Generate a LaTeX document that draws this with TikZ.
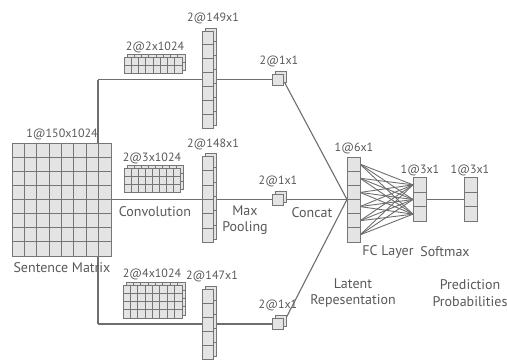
\documentclass[tikz,border=0pt]{standalone}
\usepackage{fontspec}
\setmainfont{PT Sans}
\usetikzlibrary{calc}
\definecolor{txt}{RGB}{88,88,88}
\definecolor{ln}{RGB}{110,110,110}
\definecolor{cellfill}{RGB}{228,228,228}
\definecolor{cellline}{RGB}{118,118,118}
\pgfdeclarelayer{bg}
\pgfsetlayers{bg,main}
\tikzset{
 cellbox/.style={draw=cellline, fill=cellfill, line width=0.9pt, inner sep=0pt, outer sep=0pt, rectangle},
 gridln/.style={draw=cellline, line width=0.8pt},
 conn/.style={draw=ln, line width=1.1pt},
 dimlbl/.style={text=txt, font=\fontsize{12}{14}\selectfont, inner sep=0pt},
 namelbl/.style={text=txt, font=\fontsize{14}{16.5}\selectfont, inner sep=0pt, align=center},
}
\newcommand{\cellgrid}[3]{%
 \foreach \i in {0,...,#2} \draw[gridln] ($(#1.north west)!\i/#2!(#1.north east)$) -- ($(#1.south west)!\i/#2!(#1.south east)$);
 \foreach \j in {0,...,#3} \draw[gridln] ($(#1.north west)!\j/#3!(#1.south west)$) -- ($(#1.north east)!\j/#3!(#1.south east)$);
}
\newcommand{\stacklayer}[7]{%
 \node[cellbox, minimum width=#4pt, minimum height=#5pt] (#1-b) at (#2+3, #3-3) {};
 \cellgrid{#1-b}{#6}{#7}
 \node[cellbox, minimum width=#4pt, minimum height=#5pt] (#1) at (#2, #3) {};
 \cellgrid{#1}{#6}{#7}
}
\newcommand{\flatlayer}[7]{%
 \node[cellbox, minimum width=#4pt, minimum height=#5pt] (#1) at (#2, #3) {};
 \cellgrid{#1}{#6}{#7}
}
\begin{document}
\begin{tikzpicture}[x=1pt, y=-1pt]
\useasboundingbox (0,0) rectangle (507,360);

% sentence matrix
\flatlayer{sm}{61.5}{199.5}{99}{113}{8}{8}
% filters
\stacklayer{f1}{153}{65}{58}{16}{8}{2}
\stacklayer{f2}{152.5}{180}{56}{24}{8}{3}
\stacklayer{f3}{152.5}{301.5}{59}{33}{8}{4}
% conv outputs
\stacklayer{c1}{207.5}{79.5}{11}{97}{1}{7}
\stacklayer{c2}{207.5}{199.5}{11}{86}{1}{6}
\stacklayer{c3}{207.5}{324}{11}{70}{1}{5}
% pooled
\stacklayer{p1}{277.5}{79.5}{11}{11}{1}{1}
\stacklayer{p2}{277.5}{199.5}{11}{11}{1}{1}
\stacklayer{p3}{277.5}{324}{11}{11}{1}{1}
% latent, fc, softmax
\flatlayer{fc}{353.5}{199.5}{13}{85}{1}{6}
\flatlayer{s1}{419.5}{199.5}{13}{44}{1}{3}
\flatlayer{s2}{470.5}{199.5}{13}{44}{1}{3}

\coordinate (jt) at (98,79.5);
\coordinate (jb) at (98,324);

\begin{pgfonlayer}{bg}
 \draw[conn] (jt) -- (jb);
 \draw[conn] (jt) -- (c1.west);
 \draw[conn] (jb) -- (c3.west);
 \draw[conn] (sm.east) -- (c2.west);
 \draw[conn] (c1.east) -- (p1.west);
 \draw[conn] (c2.east) -- (p2.west);
 \draw[conn] (c3.east) -- (p3.west);
 \draw[conn] (p1.east) -- (fc.west);
 \draw[conn] (p2.east) -- (fc.west);
 \draw[conn] (p3.east) -- (fc.west);
 \foreach \i in {1,...,6}
  \foreach \j in {1,...,3}
   \draw[draw=ln, line width=0.9pt] ($(fc.north east)!{(\i-0.5)/6}!(fc.south east)$) -- ($(s1.north west)!{(\j-0.5)/3}!(s1.south west)$);
 \draw[conn] (s1.east) -- (s2.west);
\end{pgfonlayer}

% dimension labels
\node[dimlbl] (l-sm) at (62,134) {1@150x1024};
\node[dimlbl] (l-f1) at (155,47) {2@2x1024};
\node[dimlbl] (l-f2) at (152,158) {2@3x1024};
\node[dimlbl] (l-f3) at (152,274) {2@4x1024};
\node[dimlbl] (l-c1) at (213,18) {2@149x1};
\node[dimlbl] (l-c2) at (213,144) {2@148x1};
\node[dimlbl] (l-c3) at (212,276) {2@147x1};
\node[dimlbl] (l-p1) at (279,61) {2@1x1};
\node[dimlbl] (l-p2) at (278,181) {2@1x1};
\node[dimlbl] (l-p3) at (278,305) {2@1x1};
\node[dimlbl] (l-fc) at (354,148) {1@6x1};
\node[dimlbl] (l-s1) at (420,170) {1@3x1};
\node[dimlbl] (l-s2) at (470,170) {1@3x1};

% name labels
\node[namelbl] (n-sm) at (62,268) {Sentence Matrix};
\node[namelbl] (n-conv) at (155,212) {Convolution};
\node[namelbl] (n-pool) at (245,220) {Max\\Pooling};
\node[namelbl] (n-cat) at (312,213) {Concat};
\node[namelbl] (n-fc) at (388,252) {FC Layer};
\node[namelbl] (n-soft) at (445,252) {Softmax};
\node[namelbl] (n-lat) at (353,293) {Latent\\Repesentation};
\node[namelbl] (n-pred) at (470,293) {Prediction\\Probabilities};
\end{tikzpicture}
\end{document}
